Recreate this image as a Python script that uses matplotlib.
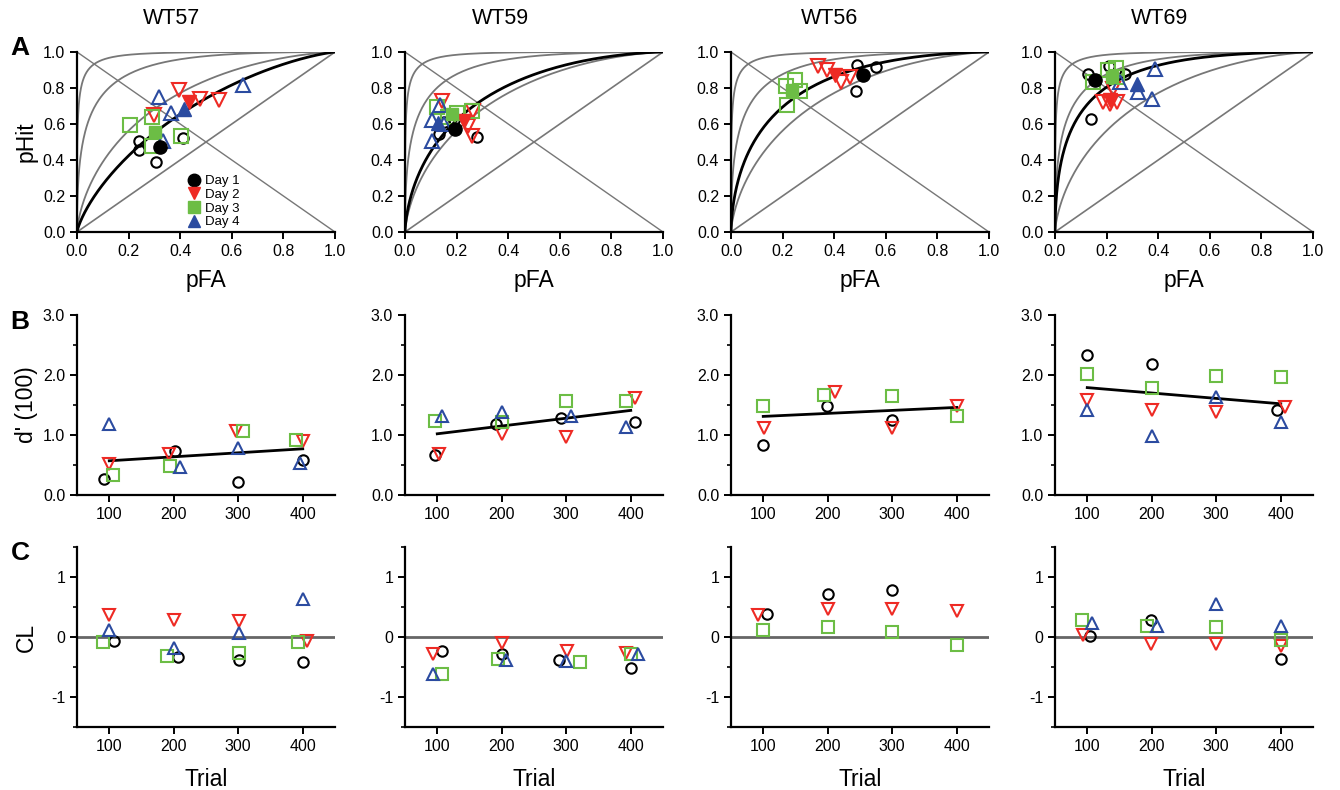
import numpy as np
import matplotlib
matplotlib.use("Agg")
import matplotlib.pyplot as plt
from matplotlib.lines import Line2D
from math import erf, sqrt

plt.rcParams['font.family'] = ['Liberation Sans', 'DejaVu Sans']
plt.rcParams['axes.unicode_minus'] = False

mice = ["WT57", "WT59", "WT56", "WT69"]
days = ["Day 1", "Day 2", "Day 3", "Day 4"]
day_colors = ["#000000", "#ee2a24", "#6cbd45", "#2b4ba0"]
day_markers = ["o", "v", "s", "^"]

# ROC points per 100-trial block (pFA, pHit), one list per day
wt57_pfa = [[0.41, 0.241, 0.307, 0.241], [0.549, 0.475, 0.394, 0.30],
            [0.404, 0.29, 0.206, 0.29], [0.316, 0.335, 0.365, 0.642]]
wt57_phit = [[0.523, 0.508, 0.39, 0.455], [0.731, 0.737, 0.787, 0.648],
             [0.532, 0.477, 0.597, 0.64], [0.751, 0.505, 0.662, 0.815]]
wt59_pfa = [[0.28, 0.19, 0.151, 0.133], [0.258, 0.265, 0.245, 0.142],
            [0.123, 0.258, 0.165, 0.20], [0.103, 0.136, 0.103, 0.15]]
wt59_phit = [[0.528, 0.62, 0.613, 0.547], [0.531, 0.671, 0.59, 0.727],
             [0.694, 0.671, 0.64, 0.66], [0.504, 0.708, 0.625, 0.60]]
wt56_pfa = [[0.484, 0.49, 0.561], [0.427, 0.339, 0.462, 0.372],
            [0.266, 0.249, 0.214, 0.217], []]
wt56_phit = [[0.786, 0.929, 0.916], [0.833, 0.92, 0.861, 0.898],
             [0.786, 0.842, 0.81, 0.703], []]
wt69_pfa = [[0.129, 0.21, 0.271, 0.138], [0.224, 0.213, 0.239, 0.187],
            [0.236, 0.239, 0.207, 0.148], [0.252, 0.375, 0.388, 0.323]]
wt69_phit = [[0.88, 0.92, 0.876, 0.63], [0.797, 0.71, 0.722, 0.722],
             [0.913, 0.861, 0.898, 0.833], [0.833, 0.741, 0.908, 0.778]]

# day means (filled markers)
wt57_pfa_mean = [0.323, 0.433, 0.304, 0.413]
wt57_phit_mean = [0.471, 0.722, 0.555, 0.686]
wt59_pfa_mean = [0.194, 0.229, 0.181, 0.129]
wt59_phit_mean = [0.573, 0.615, 0.653, 0.606]
wt56_pfa_mean = [0.511, 0.404, 0.236, None]
wt56_phit_mean = [0.875, 0.87, 0.79, None]
wt69_pfa_mean = [0.155, 0.213, 0.22, 0.317]
wt69_phit_mean = [0.843, 0.731, 0.861, 0.824]

# d' of the black iso-sensitivity curve, and grey reference curves
roc_dprime = [0.65, 1.15, 1.35, 1.7]
ref_dprime = [1, 2, 3]

# d'(100) per block
wt57_dp_trial = [[92, 202, 300, 401], [100, 193, 296, 400], [106, 194, 308, 390], [100, 210, 300, 395]]
wt57_dp = [[0.27, 0.73, 0.22, 0.59], [0.51, 0.69, 1.06, 0.90], [0.33, 0.48, 1.07, 0.91], [1.18, 0.47, 0.79, 0.53]]
wt59_dp_trial = [[96, 191, 292, 407], [102, 201, 300, 407], [97, 200, 299, 392], [107, 201, 308, 392]]
wt59_dp = [[0.66, 1.18, 1.29, 1.21], [0.68, 1.02, 0.96, 1.61], [1.24, 1.22, 1.57, 1.57], [1.32, 1.38, 1.32, 1.13]]
wt56_dp_trial = [[100, 199, 300], [101, 211, 300, 400], [100, 194, 300, 400], []]
wt56_dp = [[0.83, 1.48, 1.25], [1.11, 1.71, 1.12, 1.48], [1.48, 1.67, 1.65, 1.31], []]
wt69_dp_trial = [[100, 200, 394], [100, 201, 299, 407], [100, 200, 299, 400], [100, 200, 299, 400]]
wt69_dp = [[2.33, 2.19, 1.42], [1.58, 1.42, 1.38, 1.46], [2.02, 1.78, 1.98, 1.96], [1.42, 0.98, 1.64, 1.21]]

# regression line of d' over trials (value at 100 and at 400)
wt57_fit = [0.57, 0.77]
wt59_fit = [1.02, 1.41]
wt56_fit = [1.31, 1.46]
wt69_fit = [1.79, 1.52]

# criterion (CL) per block
wt57_cl_trial = [[107, 207, 301, 400], [99, 200, 301, 406], [91, 190, 301, 392], [100, 200, 301, 400]]
wt57_cl = [[-0.07, -0.33, -0.39, -0.41], [0.36, 0.28, 0.27, -0.07], [-0.08, -0.32, -0.26, -0.09], [0.12, -0.19, 0.06, 0.64]]
wt59_cl_trial = [[108, 200, 289, 400], [94, 201, 301, 392], [108, 194, 321, 400], [94, 206, 299, 411]]
wt59_cl = [[-0.24, -0.28, -0.39, -0.51], [-0.29, -0.10, -0.23, -0.26], [-0.62, -0.37, -0.41, -0.28], [-0.62, -0.39, -0.40, -0.28]]
wt56_cl_trial = [[106, 200, 300], [92, 200, 300, 400], [100, 200, 300, 400], []]
wt56_cl = [[0.38, 0.72, 0.78], [0.36, 0.47, 0.47, 0.44], [0.11, 0.16, 0.08, -0.14], []]
wt69_cl_trial = [[104, 199, 400], [93, 199, 299, 400], [92, 192, 299, 400], [108, 208, 299, 400]]
wt69_cl = [[0.01, 0.29, -0.37], [0.03, -0.12, -0.12, -0.15], [0.29, 0.18, 0.16, -0.05], [0.24, 0.18, 0.55, 0.18]]

trial_ticks = [100, 200, 300, 400]

pfa_all = [wt57_pfa, wt59_pfa, wt56_pfa, wt69_pfa]
phit_all = [wt57_phit, wt59_phit, wt56_phit, wt69_phit]
pfa_mean_all = [wt57_pfa_mean, wt59_pfa_mean, wt56_pfa_mean, wt69_pfa_mean]
phit_mean_all = [wt57_phit_mean, wt59_phit_mean, wt56_phit_mean, wt69_phit_mean]
dp_trial_all = [wt57_dp_trial, wt59_dp_trial, wt56_dp_trial, wt69_dp_trial]
dp_all = [wt57_dp, wt59_dp, wt56_dp, wt69_dp]
fit_all = [wt57_fit, wt59_fit, wt56_fit, wt69_fit]
cl_trial_all = [wt57_cl_trial, wt59_cl_trial, wt56_cl_trial, wt69_cl_trial]
cl_all = [wt57_cl, wt59_cl, wt56_cl, wt69_cl]

phi = np.vectorize(lambda z: 0.5 * (1 + erf(z / sqrt(2))))
zz = np.linspace(-7, 7, 600)

open_size = {"o": 7.5, "v": 10.5, "s": 10, "^": 10.5}
fill_size = {"o": 9.5, "v": 9.5, "s": 8.5, "^": 9.5}
small_size = {"o": 7.5, "v": 9, "s": 8.5, "^": 9}

W, H = 1340, 790
fig = plt.figure(figsize=(W / 100, H / 100), dpi=100)

col_left = [77, 405, 731, 1055]
col_w = 258
row_top = {"roc": 52, "dp": 315, "cl": 547}
row_h = 180
ylabel_x = (38 - 77) / col_w


def make_ax(col, row):
    ax = fig.add_axes([col_left[col] / W, 1 - (row_top[row] + row_h) / H, col_w / W, row_h / H])
    for s in ["top", "right"]:
        ax.spines[s].set_visible(False)
    for s in ["left", "bottom"]:
        ax.spines[s].set_linewidth(1.6)
    ax.tick_params(direction="out", length=5, width=1.4, labelsize=11.5)
    ax.tick_params(which="minor", direction="out", length=3, width=1.2)
    return ax


def style_trial_axis(ax):
    ax.set_xlim(50, 450)
    ax.set_xticks(trial_ticks)


for i, mouse in enumerate(mice):
    # --- row A: ROC
    ax = make_ax(i, "roc")
    ax.set_xlim(0, 1)
    ax.set_ylim(0, 1)
    ax.plot([0, 1], [0, 1], color="#777777", lw=1.2, zorder=1)
    ax.plot([0, 1], [1, 0], color="#777777", lw=1.0, zorder=1)
    for d in ref_dprime:
        ax.plot(phi(zz), phi(zz + d), color="#777777", lw=1.3, zorder=1)
    ax.plot(phi(zz), phi(zz + roc_dprime[i]), color="black", lw=2, zorder=2)
    for k in range(4):
        if len(pfa_all[i][k]) == 0:
            continue
        m = day_markers[k]
        ax.plot(pfa_all[i][k], phit_all[i][k], ls="none", marker=m, ms=open_size[m],
                mfc="none", mec=day_colors[k], mew=1.5, clip_on=False, zorder=3)
    for k in range(4):
        if pfa_mean_all[i][k] is None:
            continue
        m = day_markers[k]
        ax.plot(pfa_mean_all[i][k], phit_mean_all[i][k], ls="none", marker=m, ms=fill_size[m],
                mfc=day_colors[k], mec=day_colors[k], clip_on=False, zorder=4)
    ax.set_xticks(np.arange(0, 1.01, 0.2))
    ax.set_yticks(np.arange(0, 1.01, 0.2))
    ax.xaxis.set_major_formatter(plt.FormatStrFormatter("%.1f"))
    ax.yaxis.set_major_formatter(plt.FormatStrFormatter("%.1f"))
    ax.set_xlabel("pFA", fontsize=16.5, labelpad=7)
    if i == 0:
        ax.set_ylabel("pHit", fontsize=16.5)
        ax.yaxis.set_label_coords(ylabel_x, 0.5)
        handles = [Line2D([], [], ls="none", marker=day_markers[k], ms=9, mfc=day_colors[k],
                          mec=day_colors[k]) for k in range(4)]
        ax.legend(handles, days, loc="lower left", bbox_to_anchor=(0.38, -0.03), frameon=False,
                  fontsize=9.5, handletextpad=0.2, labelspacing=0.1, borderpad=0.2,
                  handlelength=1.4)

    # --- row B: d'(100)
    ax = make_ax(i, "dp")
    style_trial_axis(ax)
    ax.set_ylim(0, 3)
    ax.set_yticks([0, 1, 2, 3])
    ax.set_yticks([0.5, 1.5, 2.5], minor=True)
    ax.yaxis.set_major_formatter(plt.FormatStrFormatter("%.1f"))
    ax.plot([100, 400], fit_all[i], color="black", lw=2, zorder=2)
    for k in range(4):
        if len(dp_all[i][k]) == 0:
            continue
        m = day_markers[k]
        ax.plot(dp_trial_all[i][k], dp_all[i][k], ls="none", marker=m, ms=small_size[m],
                mfc="none", mec=day_colors[k], mew=1.5, clip_on=False, zorder=3)
    if i == 0:
        ax.set_ylabel("d' (100)", fontsize=16.5)
        ax.yaxis.set_label_coords(ylabel_x, 0.5)

    # --- row C: criterion
    ax = make_ax(i, "cl")
    style_trial_axis(ax)
    ax.set_ylim(-1.5, 1.5)
    ax.set_yticks([-1, 0, 1])
    ax.set_yticks([-1.5, -0.5, 0.5, 1.5], minor=True)
    ax.axhline(0, color="#666666", lw=2, zorder=1)
    for k in range(4):
        if len(cl_all[i][k]) == 0:
            continue
        m = day_markers[k]
        ax.plot(cl_trial_all[i][k], cl_all[i][k], ls="none", marker=m, ms=small_size[m],
                mfc="none", mec=day_colors[k], mew=1.5, clip_on=False, zorder=3)
    ax.set_xlabel("Trial", fontsize=16.5, labelpad=10)
    if i == 0:
        ax.set_ylabel("CL", fontsize=16.5)
        ax.yaxis.set_label_coords(ylabel_x, 0.5)

title_x = [172, 500, 830, 1160]
for x, mouse in zip(title_x, mice):
    fig.text(x / W, 1 - 18 / H, mouse, fontsize=15.5, ha="center", va="center")

for letter, y in [("A", 48), ("B", 322), ("C", 553)]:
    fig.text(20 / W, 1 - y / H, letter, fontsize=19, fontweight="bold", ha="center", va="center")

fig.savefig("out.png", dpi=100)
